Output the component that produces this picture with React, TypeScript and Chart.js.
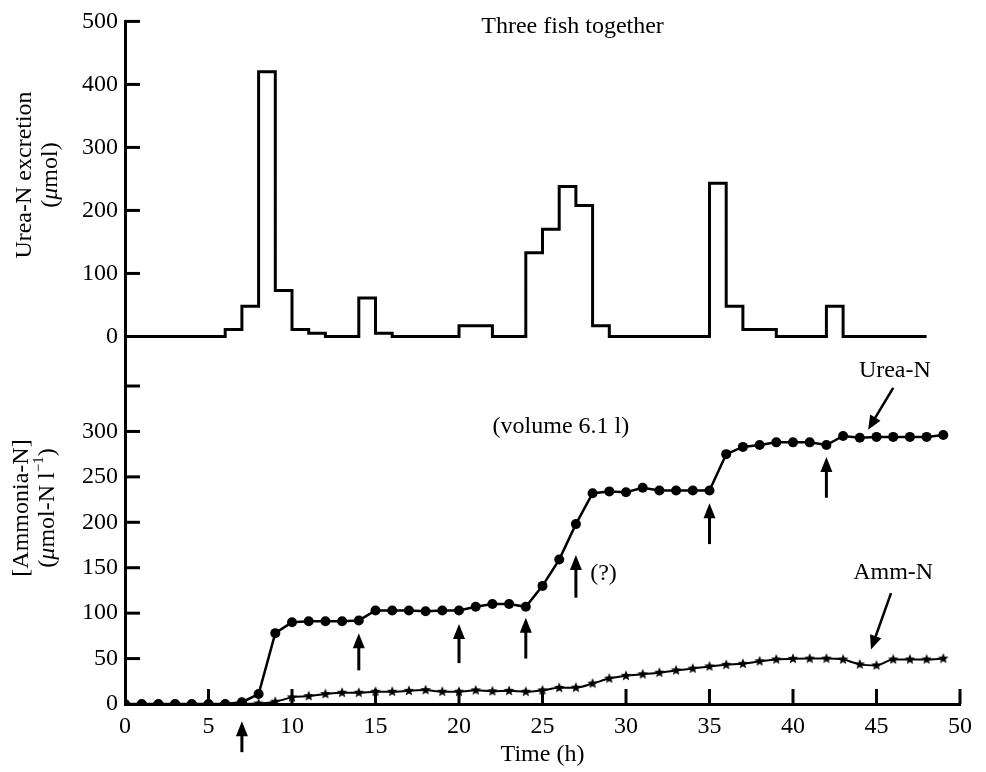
import React, { useEffect, useRef } from 'react';
import { Chart, registerables } from 'chart.js';

Chart.register(...registerables);

// ---------- data ----------
// Upper panel: urea-N excretion per 1-h bin (bin start hour = index)
const excretionBins = [
  0, 0, 0, 0, 0, 0, 11, 48, 420, 73, 11, 5, 0, 0, 61, 5, 0, 0, 0, 0,
  17, 17, 0, 0, 133, 170, 238, 208, 17, 0, 0, 0, 0, 0, 0, 243, 48, 11, 11, 0,
  0, 0, 48, 0, 0, 0, 0, 0,
];

// Lower panel: concentrations at hourly samples (hour = index)
const ureaN = [
  0, 0, 0, 0, 0, 0, 0, 2, 11, 78, 90, 91, 91, 91, 92, 103, 103, 103, 102, 103,
  103, 107, 110, 110, 107, 130, 159, 198, 232, 234, 233, 238, 235, 235, 235, 235, 275, 283, 285, 288,
  288, 288, 285, 295, 293, 294, 294, 294, 294, 296,
];
const ammN = [
  0, 0, 0, 0, 0, 0, 0, 0, 0.5, 2.5, 7.3, 8.7, 11, 12.4, 12.4, 13.5, 13.5, 14.5, 15.3, 13.5,
  13.5, 15, 14, 14.5, 13.5, 15, 17.8, 18, 22.5, 28, 31, 32.7, 34.5, 37, 39, 41.4, 43.2, 44.3, 47, 49,
  49.8, 50, 50, 49, 43.6, 42.5, 49, 49, 49, 50,
];

// Feeding / event arrows (hour, tail value, tip value) on the lower panel scale
const eventArrows = [
  { t: 7, from: -53, to: -19 },
  { t: 14, from: 37, to: 78 },
  { t: 20, from: 45, to: 88 },
  { t: 24, from: 50, to: 95 },
  { t: 27, from: 117, to: 164 },
  { t: 35, from: 176, to: 221 },
  { t: 42, from: 227, to: 272 },
];
// Label pointer arrows (tail [h, value] -> tip [h, value])
const pointerArrows = [
  { from: [46.0, 348], to: [44.5, 302] },
  { from: [45.87, 122], to: [44.67, 60] },
];
const lowerNotes = [
  { text: 'Urea-N', t: 46.1, v: 367 },
  { text: 'Amm-N', t: 46.0, v: 144 },
  { text: '(?)', t: 28.65, v: 143 },
  { text: '(volume 6.1 l)', t: 26.1, v: 305 },
];
const upperNotes = [{ text: 'Three fish together', t: 26.8, v: 492 }];

const FONT = "'Liberation Serif', 'Times New Roman', serif";

function makeStar(): HTMLCanvasElement {
  const c = document.createElement('canvas');
  c.width = 12;
  c.height = 12;
  const g = c.getContext('2d')!;
  g.fillStyle = '#000';
  g.beginPath();
  for (let k = 0; k < 10; k++) {
    const r = k % 2 === 0 ? 5.5 : 2.4;
    const a = -Math.PI / 2 + (k * Math.PI) / 5;
    const px = 6 + r * Math.cos(a);
    const py = 6 + r * Math.sin(a);
    if (k === 0) g.moveTo(px, py);
    else g.lineTo(px, py);
  }
  g.closePath();
  g.fill();
  return c;
}

function drawArrow(ctx: CanvasRenderingContext2D, x1: number, y1: number, x2: number, y2: number, lw: number, hl: number, hw: number) {
  const ang = Math.atan2(y2 - y1, x2 - x1);
  const bx = x2 - hl * Math.cos(ang);
  const by = y2 - hl * Math.sin(ang);
  ctx.lineWidth = lw;
  ctx.beginPath();
  ctx.moveTo(x1, y1);
  ctx.lineTo(bx + Math.cos(ang), by + Math.sin(ang));
  ctx.stroke();
  ctx.beginPath();
  ctx.moveTo(x2, y2);
  ctx.lineTo(bx + (hw / 2) * Math.sin(ang), by - (hw / 2) * Math.cos(ang));
  ctx.lineTo(bx - (hw / 2) * Math.sin(ang), by + (hw / 2) * Math.cos(ang));
  ctx.closePath();
  ctx.fill();
}

type Seg = { text: string; italic?: boolean; sup?: boolean };

function drawRotatedRich(ctx: CanvasRenderingContext2D, segs: Seg[], cx: number, cy: number) {
  const fontFor = (s: Seg) => `${s.italic ? 'italic ' : ''}${s.sup ? 15 : 24}px ${FONT}`;
  ctx.save();
  ctx.translate(cx, cy);
  ctx.rotate(-Math.PI / 2);
  ctx.textBaseline = 'middle';
  ctx.textAlign = 'left';
  const widths = segs.map((s) => {
    ctx.font = fontFor(s);
    return ctx.measureText(s.text).width;
  });
  const total = widths.reduce((a, b) => a + b, 0);
  let xx = -total / 2;
  segs.forEach((s, i) => {
    ctx.font = fontFor(s);
    ctx.fillText(s.text, xx, s.sup ? -9 : 0);
    xx += widths[i];
  });
  ctx.restore();
}

const decorPlugin = {
  id: 'decor',
  afterDraw(chart: any) {
    const { ctx, chartArea, scales } = chart;
    const x = scales.x;
    const yTop = scales.yTop;
    const yBot = scales.yBot;
    ctx.save();
    ctx.strokeStyle = '#000';
    ctx.fillStyle = '#000';
    ctx.lineCap = 'butt';

    // inward tick marks
    const tl = 15;
    ctx.lineWidth = 3;
    for (const s of [yTop, yBot]) {
      for (const t of s.ticks) {
        if (t.value <= 0) continue;
        const py = s.getPixelForValue(t.value);
        ctx.beginPath();
        ctx.moveTo(chartArea.left, py);
        ctx.lineTo(chartArea.left + tl, py);
        ctx.stroke();
      }
    }
    for (const t of x.ticks) {
      if (t.value <= 0) continue;
      const px = x.getPixelForValue(t.value);
      ctx.beginPath();
      ctx.moveTo(px, chartArea.bottom);
      ctx.lineTo(px, chartArea.bottom - tl);
      ctx.stroke();
    }

    // event arrows
    for (const a of eventArrows) {
      const px = x.getPixelForValue(a.t);
      drawArrow(ctx, px, yBot.getPixelForValue(a.from), px, yBot.getPixelForValue(a.to), 3, 15, 12);
    }
    for (const a of pointerArrows) {
      drawArrow(
        ctx,
        x.getPixelForValue(a.from[0]), yBot.getPixelForValue(a.from[1]),
        x.getPixelForValue(a.to[0]), yBot.getPixelForValue(a.to[1]),
        2.5, 14, 12,
      );
    }

    // notes
    ctx.font = `24px ${FONT}`;
    ctx.textAlign = 'center';
    ctx.textBaseline = 'middle';
    for (const n of lowerNotes) {
      ctx.fillText(n.text, x.getPixelForValue(n.t), yBot.getPixelForValue(n.v));
    }
    for (const n of upperNotes) {
      ctx.fillText(n.text, x.getPixelForValue(n.t), yTop.getPixelForValue(n.v));
    }

    // y axis titles
    drawRotatedRich(ctx, [{ text: 'Urea-N excretion' }], 25, 175);
    drawRotatedRich(ctx, [{ text: '(' }, { text: 'μ', italic: true }, { text: 'mol)' }], 51, 175);
    drawRotatedRich(ctx, [{ text: '[Ammonia-N]' }], 22, 508);
    drawRotatedRich(
      ctx,
      [{ text: '(' }, { text: 'μ', italic: true }, { text: 'mol-N l' }, { text: '−1', sup: true }, { text: ')' }],
      48,
      508,
    );
    ctx.restore();
  },
};

export default function App() {
  const ref = useRef<HTMLCanvasElement>(null);

  useEffect(() => {
    const canvas = ref.current;
    if (!canvas) return;
    const star = makeStar();

    const histData = excretionBins.map((v, i) => ({ x: i, y: v }));
    histData.push({ x: excretionBins.length, y: 0 });

    const tickFont = { family: FONT, size: 24 };

    const chart = new Chart(canvas, {
      type: 'line',
      data: {
        datasets: [
          {
            label: 'Urea-N',
            data: ureaN.map((v, i) => ({ x: i, y: v })),
            xAxisID: 'x',
            yAxisID: 'yBot',
            borderColor: '#000',
            borderWidth: 2.5,
            backgroundColor: '#000',
            pointRadius: 5,
            pointBorderWidth: 0,
            pointBackgroundColor: '#000',
            tension: 0,
            fill: false,
          },
          {
            label: 'Amm-N',
            data: ammN.map((v, i) => ({ x: i, y: v })),
            xAxisID: 'x',
            yAxisID: 'yBot',
            borderColor: '#000',
            borderWidth: 2,
            pointStyle: star as any,
            pointRadius: 5,
            cubicInterpolationMode: 'monotone',
            fill: false,
          },
          {
            label: 'Urea-N excretion',
            data: histData,
            xAxisID: 'x',
            yAxisID: 'yTop',
            stepped: true,
            borderColor: '#000',
            borderWidth: 3,
            borderJoinStyle: 'miter',
            pointRadius: 0,
            fill: false,
          },
        ] as any,
      },
      options: {
        responsive: false,
        animation: false,
        events: [],
        layout: { padding: { top: 15, right: 26, bottom: 0, left: 0 } },
        plugins: { legend: { display: false }, tooltip: { enabled: false } },
        scales: {
          x: {
            type: 'linear',
            position: 'bottom',
            min: 0,
            max: 50,
            grid: { display: false, drawTicks: false, drawOnChartArea: false },
            border: { display: true, width: 3, color: '#000' },
            ticks: { stepSize: 5, font: tickFont, color: '#000', padding: 8, maxRotation: 0, autoSkip: false },
            title: {
              display: true,
              text: 'Time (h)',
              color: '#000',
              font: { family: FONT, size: 24, lineHeight: 1.08 },
              padding: { top: 0, bottom: 4 },
            },
            afterFit: (s: any) => {
              s.height = 68;
            },
          },
          yBot: {
            type: 'linear',
            position: 'left',
            stack: 'panels',
            stackWeight: 346,
            weight: 0,
            min: 0,
            max: 377.3,
            grid: { display: false, drawTicks: false, drawOnChartArea: false },
            border: { display: true, width: 3, color: '#000' },
            ticks: {
              stepSize: 50,
              includeBounds: false,
              font: tickFont,
              color: '#000',
              padding: 7,
              autoSkip: false,
              callback: (v: any) => (v === 350 ? '' : String(v)),
            },
            afterBuildTicks: (s: any) => {
              s.ticks = s.ticks.filter((t: any) => t.value >= 0 && t.value <= 350 && t.value % 50 === 0);
            },
            afterFit: (s: any) => {
              s.width = 125;
            },
          },
          yTop: {
            type: 'linear',
            position: 'left',
            stack: 'panels',
            stackWeight: 343,
            weight: 1,
            min: -39.3,
            max: 500,
            grid: { display: false, drawTicks: false, drawOnChartArea: false },
            border: { display: true, width: 3, color: '#000' },
            ticks: { stepSize: 100, includeBounds: false, font: tickFont, color: '#000', padding: 7, autoSkip: false },
            afterBuildTicks: (s: any) => {
              s.ticks = s.ticks.filter((t: any) => t.value >= 0 && t.value <= 500 && t.value % 100 === 0);
            },
            afterFit: (s: any) => {
              s.width = 125;
            },
          },
        },
      } as any,
      plugins: [decorPlugin],
    });

    return () => chart.destroy();
  }, []);

  return (
    <div style={{ position: 'fixed', left: 0, top: 0, width: 986, height: 772, background: '#fff' }}>
      <canvas ref={ref} width={986} height={772} style={{ display: 'block', width: 986, height: 772 }} />
    </div>
  );
}
